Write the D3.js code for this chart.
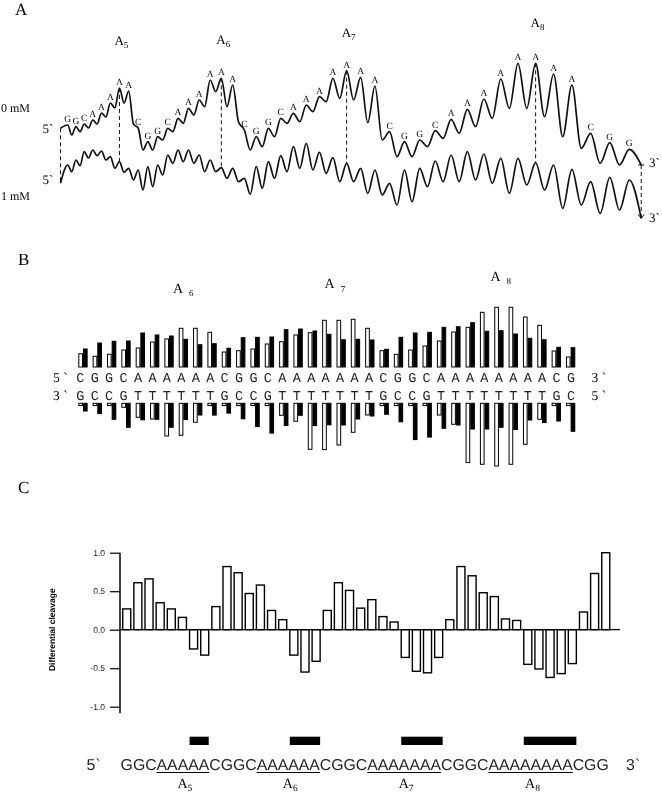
<!DOCTYPE html>
<html><head><meta charset="utf-8">
<script src="https://cdn.jsdelivr.net/npm/d3@7"></script>
<style>body{margin:0;background:#fff}svg{display:block;will-change:transform}text{text-rendering:geometricPrecision}</style>
</head><body>
<svg id="fig" width="662" height="793"></svg>
<script>
// ---------- DATA ----------
// Panel A: densitometer scans (arbitrary units), one peak per band and one trough between bands
const bandsA = "GGCAAAAACGGCAAAAAACGGCAAAAAAACGGCAAAAAAAACGG".split("");
const scanLabels = ["0 mM", "1 mM"];
const scan0Peaks = [45,43.3,46,50,57,67,82,79,42,28.3,33.3,41.7,51.7,61.7,70,90,91.7,85,40,33.3,41.7,51.7,56.7,65,73.3,91.7,99.3,92.7,84,38.3,28.3,30,39.3,50.7,60.7,71,91,106.7,106.7,96,85,36.7,27.3,20.7];
const scan0Troughs = [35,38.3,42,46,53,62,67,46,20,20,30,38.3,46.7,55,63.3,78.3,63.3,48,20,23.3,33.3,46.7,48.3,58.3,68.3,71.7,70,47.3,30,13.3,13.3,23.3,31.7,36.7,43.3,51.7,61.7,61.7,53.3,33.3,21.7,6.7,5];
const scan1Peaks = [60,65,73.3,75,74,68.3,63.3,56.7,55,58.3,60,70,75,75,70,65,57.3,56.7,46.7,58.3,63.3,69.3,78.3,81.7,72.7,67.3,61.7,56.7,55,41.7,55,56.7,64,70,73.3,71,66.7,66.7,62.3,60,55.7,43.3,47.7,45];
const scan1Troughs = [53.3,59.3,67,69.3,65,56.7,52.7,45,35,38.3,50,61.7,63.3,61.7,53.3,53.3,46.7,43.3,30.7,36.7,46.7,53.3,56.7,55,51.7,43.3,43.3,31.7,30,20,23.3,38.3,43.3,43.3,45,41.7,31.7,40,35,16.7,20,11.7,15];
const scanStart = [41.7, 41.7];
const scanEnd = [5, 6.7];
const tractBandsA = [6, 16, 26, 38];
const tractNamesA = ["5", "6", "7", "8"];

// Panel B: cleavage intensities per position (arbitrary units)
const seqTopB = "CGGCAAAAAACGGCAAAAAAACGGCAAAAAAAACG";
const seqBotB = "GCCGTTTTTTGCCGTTTTTTTGCCGTTTTTTTTGC";
const topOpen  = [13.3,10.7,12.7,17,19,25,28,38.7,38.7,34.7,15,16.3,18,23,25.3,32,34.3,46.7,46.7,47.7,38.7,16.3,12.7,17,21,26,35,39.7,54.7,59.7,59.7,50,41.7,16,10];
const topFilled = [18,24,25.7,26,34,32,31,27.7,22.3,23.3,18.7,29.3,29.7,30,37.3,38,36,32.7,27.3,27.7,27,17.7,29.7,34,34.7,39.7,40.3,44.3,35.7,36.3,33,28.7,27.3,19.7,19.3];
const botOpen  = [2.3,2.3,2.3,4,14,15.7,32.7,32,19,2.3,2.3,2.3,2.3,2.3,12,18,46,46.3,41.7,29,11.7,2.3,2.3,2.3,2.3,11.7,21,59.3,61,62.7,61,41,16,2.3,2.3];
const botFilled = [7.7,10.3,16,24,16.5,16,24,16.3,11.7,11.8,9.8,15.5,23.3,29.8,22.2,12,22.3,21.5,21.7,15.7,12.7,11,18.5,36.3,33.8,25,21.7,25.7,25.7,24,26.3,16.7,19.3,17.7,28];
const tractNamesB = ["6", "7", "8"];

// Panel C: differential cleavage
const seqC = "GGCAAAAACGGCAAAAAACGGCAAAAAAACGGCAAAAAAAACGG";
const diffCleavage = [0.27,0.61,0.66,0.35,0.27,0.16,-0.25,-0.33,0.30,0.82,0.74,0.47,0.58,0.25,0.13,-0.33,-0.55,-0.41,0.25,0.61,0.51,0.28,0.39,0.17,0.10,-0.36,-0.54,-0.56,-0.36,0.13,0.82,0.70,0.48,0.43,0.14,0.12,-0.45,-0.51,-0.62,-0.57,-0.44,0.23,0.73,1.0];
const yTicksC = [1.0, 0.5, 0.0, -0.5, -1.0];

// ---------- DRAW ----------
const svg = d3.select("#fig");
const SERIF = "'Liberation Serif','Times New Roman',serif";
const SANS = "'Liberation Sans',Arial,sans-serif";
const MONO = "'Liberation Mono','Courier New',monospace";

// panel letters
[["A",15,15],["B",18,265],["C",18,493]].forEach(([t,x,y]) =>
  svg.append("text").attr("x",x).attr("y",y).attr("font-family",SERIF).attr("font-size",17).text(t));

// ===== Panel A =====
const kMig = 0.0207;
const xMig = d3.scaleLinear().domain([1, Math.exp(kMig*43)]).range([67.7, 629.3]);
const bandX = i => xMig(Math.exp(kMig*i));
const yA = d3.scaleLinear().domain([0,100]).range([0,-100]);
const scanBase = [170, 225];
const scans = [[scan0Peaks, scan0Troughs],[scan1Peaks, scan1Troughs]];
const gA = svg.append("g");
const startI = -0.9, endI = 43.6;
scans.forEach(([pk, tr], s) => {
  const pts = [[startI, scanStart[s]]];
  pk.forEach((p,i) => { pts.push([i,p]); if (i < tr.length) pts.push([i+0.5, tr[i]]); });
  pts.push([endI, scanEnd[s]]);
  const line = d3.line().x(d => bandX(d[0])).y(d => scanBase[s] + yA(d[1])).curve(d3.curveMonotoneX);
  gA.append("path").attr("d", line(pts)).attr("fill","none").attr("stroke","#111").attr("stroke-width",1.7).attr("stroke-linejoin","round");
});
// band letters above top scan
gA.selectAll("text.band").data(bandsA).join("text").attr("class","band")
  .attr("x",(d,i)=>bandX(i)).attr("y",(d,i)=>scanBase[0]+yA(scan0Peaks[i])-3)
  .attr("text-anchor","middle").attr("font-family",SERIF).attr("font-size",9.5).attr("fill","#000").text(d=>d);
// dashed connectors
const dash = "4,3";
tractBandsA.forEach(i => {
  gA.append("line").attr("x1",bandX(i)).attr("x2",bandX(i))
    .attr("y1",scanBase[0]+yA(scan0Peaks[i])).attr("y2",scanBase[1]+yA(scan1Peaks[i]))
    .attr("stroke","#111").attr("stroke-width",1).attr("stroke-dasharray",dash);
});
gA.append("line").attr("x1",bandX(startI)).attr("x2",bandX(startI))
  .attr("y1",scanBase[0]+yA(scanStart[0])).attr("y2",scanBase[1]+yA(scanStart[1]))
  .attr("stroke","#111").attr("stroke-width",1).attr("stroke-dasharray",dash);
const xe = bandX(endI);
const ye0 = scanBase[0]+yA(scanEnd[0]), ye1 = scanBase[1]+yA(scanEnd[1]);
gA.append("line").attr("x1",xe).attr("x2",xe).attr("y1",ye0).attr("y2",ye1)
  .attr("stroke","#111").attr("stroke-width",1).attr("stroke-dasharray",dash);
gA.append("path").attr("d",`M${xe-3},${ye1-4}L${xe},${ye1}L${xe+3},${ye1-4}`).attr("fill","none").attr("stroke","#111").attr("stroke-width",1);
gA.append("path").attr("d",`M${xe-3},${ye0}L${xe+3},${ye0}`).attr("stroke","#111").attr("stroke-width",1);
// tract labels
const tractLabelY = [45, 44, 36.7, 26.7];
tractBandsA.forEach((i,k) => {
  const t = gA.append("text").attr("x",bandX(i)-5).attr("y",tractLabelY[k]).attr("font-family",SERIF).attr("font-size",13).text("A");
  t.append("tspan").attr("font-size",9).attr("dy",3).text(tractNamesA[k]);
});
// side labels
gA.append("text").attr("x",1).attr("y",111.7).attr("font-family",SERIF).attr("font-size",12).text(scanLabels[0]);
gA.append("text").attr("x",1).attr("y",200).attr("font-family",SERIF).attr("font-size",12).text(scanLabels[1]);
gA.append("text").attr("x",42.5).attr("y",133.3).attr("font-family",SERIF).attr("font-size",13).text("5`");
gA.append("text").attr("x",42.5).attr("y",184.3).attr("font-family",SERIF).attr("font-size",13).text("5`");
gA.append("text").attr("x",649).attr("y",167).attr("font-family",SERIF).attr("font-size",13).text("3`");
gA.append("text").attr("x",649).attr("y",222).attr("font-family",SERIF).attr("font-size",13).text("3`");

// ===== Panel B =====
const nB = seqTopB.length;
const xB = d3.scaleBand().domain(d3.range(nB)).range([75.8, 577.8]).paddingInner(0.35).paddingOuter(0.175);
const xLetB = d3.scalePoint().domain(d3.range(nB)).range([80.3, 571]);
const hB = d3.scaleLinear().domain([0, 60]).range([0, 60]);
const baseTopB = 367, baseBotB = 403.3;
const bw = xB.bandwidth()/2;
const gB = svg.append("g");
const barsB = [
  {vals: topOpen, dx: 0, fill: "#fff", top: true},
  {vals: topFilled, dx: bw, fill: "#000", top: true},
  {vals: botOpen, dx: 0, fill: "#fff", top: false},
  {vals: botFilled, dx: bw, fill: "#000", top: false}
];
barsB.forEach(b => {
  gB.selectAll(null).data(b.vals).join("rect")
    .attr("x",(d,i)=>xB(i)+b.dx+0.5).attr("width",bw-1)
    .attr("y",d=> b.top ? baseTopB - hB(d) : baseBotB)
    .attr("height",d=>hB(d))
    .attr("fill",b.fill).attr("stroke","#000").attr("stroke-width",1);
});
gB.selectAll(null).data(seqTopB.split("")).join("text")
  .attr("x",(d,i)=>xLetB(i)).attr("y",381.5).attr("text-anchor","middle")
  .attr("font-family",MONO).attr("font-size",13.5).attr("fill","#222").text(d=>d);
gB.selectAll(null).data(seqBotB.split("")).join("text")
  .attr("x",(d,i)=>xLetB(i)).attr("y",400).attr("text-anchor","middle")
  .attr("font-family",MONO).attr("font-size",13.5).attr("fill","#222").text(d=>d);
gB.append("text").attr("x",53).attr("y",381.7).attr("font-family",SERIF).attr("font-size",13.5).text("5 `");
gB.append("text").attr("x",53).attr("y",400).attr("font-family",SERIF).attr("font-size",13.5).text("3 `");
gB.append("text").attr("x",591.5).attr("y",381.7).attr("font-family",SERIF).attr("font-size",13.5).text("3 `");
gB.append("text").attr("x",591.5).attr("y",400).attr("font-family",SERIF).attr("font-size",13.5).text("5 `");
// tract labels: centred over A runs of length >= 5
const runsB = [];
seqTopB.replace(/A{5,}/g, (m, off) => { runsB.push([off, off+m.length-1]); return m; });
const tractLabelYB = [292.7, 288.3, 280.7];
runsB.forEach((r,k) => {
  const cx = (xLetB(r[0]) + xLetB(r[1]))/2 + 4;
  gB.append("text").attr("x",cx).attr("y",tractLabelYB[k]).attr("text-anchor","middle").attr("font-family",SERIF).attr("font-size",14).text("A");
  gB.append("text").attr("x",cx+11).attr("y",tractLabelYB[k]+3.5).attr("font-family",SERIF).attr("font-size",9).text(tractNamesB[k]);
});

// ===== Panel C =====
const nC = diffCleavage.length;
const xC = d3.scaleBand().domain(d3.range(nC)).range([120.5, 612]).paddingInner(0.28).paddingOuter(0.2);
const yC = d3.scaleLinear().domain([-1, 1]).range([706.7, 552.7]);
const gC = svg.append("g");
gC.append("line").attr("x1",120).attr("x2",120).attr("y1",yC(1)).attr("y2",yC(-1.085)).attr("stroke","#000").attr("stroke-width",1.5);
const axC = d3.axisLeft(yC).tickValues(yTicksC).tickSize(10).tickPadding(5)
  .tickFormat(d => d3.format(".1f")(d).replace("\u2212","-"));
const ax = gC.append("g").attr("transform","translate(120,0)").call(axC);
ax.select(".domain").remove();
ax.selectAll(".tick line").attr("stroke","#000").attr("stroke-width",1.2);
ax.selectAll(".tick text").attr("font-family",SANS).attr("font-size",8.5).attr("fill","#222");
gC.selectAll(null).data(diffCleavage).join("rect")
  .attr("x",(d,i)=>xC(i)).attr("width",xC.bandwidth())
  .attr("y",d=>yC(Math.max(0,d))).attr("height",d=>Math.abs(yC(d)-yC(0)))
  .attr("fill","#fff").attr("stroke","#000").attr("stroke-width",1.4);
gC.append("line").attr("x1",120).attr("x2",620).attr("y1",yC(0)).attr("y2",yC(0)).attr("stroke","#000").attr("stroke-width",1.2);
gC.append("text").attr("transform",`translate(55,${yC(0)}) rotate(-90)`).attr("text-anchor","middle")
  .attr("font-family",SANS).attr("font-weight","bold").attr("font-size",8.5).text("Differential cleavage");
// black bars over runs of negative values
const negRuns = [];
let rs = -1;
diffCleavage.forEach((v,i) => {
  if (v < 0 && rs < 0) rs = i;
  if ((v >= 0 || i === nC-1) && rs >= 0) { negRuns.push([rs, v < 0 ? i : i-1]); rs = -1; }
});
gC.selectAll(null).data(negRuns).join("rect")
  .attr("x",d=>xC(d[0])).attr("width",d=>xC(d[1])+xC.bandwidth()-xC(d[0]))
  .attr("y",736.7).attr("height",8.3).attr("fill","#000");
// sequence
const seqY = 769.5;
const seqText = gC.append("text").attr("x",120.6).attr("y",seqY).attr("font-family",SANS).attr("font-size",15.8).attr("fill","#222").text(seqC);
gC.append("text").attr("x",86.5).attr("y",seqY).attr("font-family",SANS).attr("font-size",15.8).attr("fill","#222").text("5`");
gC.append("text").attr("x",626).attr("y",seqY).attr("font-family",SANS).attr("font-size",15.8).attr("fill","#222").text("3`");
const node = seqText.node();
const runsC = [];
seqC.replace(/A{5,}/g, (m, off) => { runsC.push([off, off+m.length-1]); return m; });
runsC.forEach(r => {
  const x0 = node.getStartPositionOfChar(r[0]).x;
  const x1 = node.getEndPositionOfChar(r[1]).x;
  gC.append("line").attr("x1",x0).attr("x2",x1).attr("y1",seqY+3).attr("y2",seqY+3).attr("stroke","#000").attr("stroke-width",1);
  const cx = (x0+x1)/2;
  const t = gC.append("text").attr("x",cx+2).attr("y",787.5).attr("text-anchor","middle").attr("font-family",SERIF).attr("font-size",14).text("A");
  t.append("tspan").attr("font-size",9.5).attr("dy",3).text(r[1]-r[0]+1);
});
</script>
</body></html>
